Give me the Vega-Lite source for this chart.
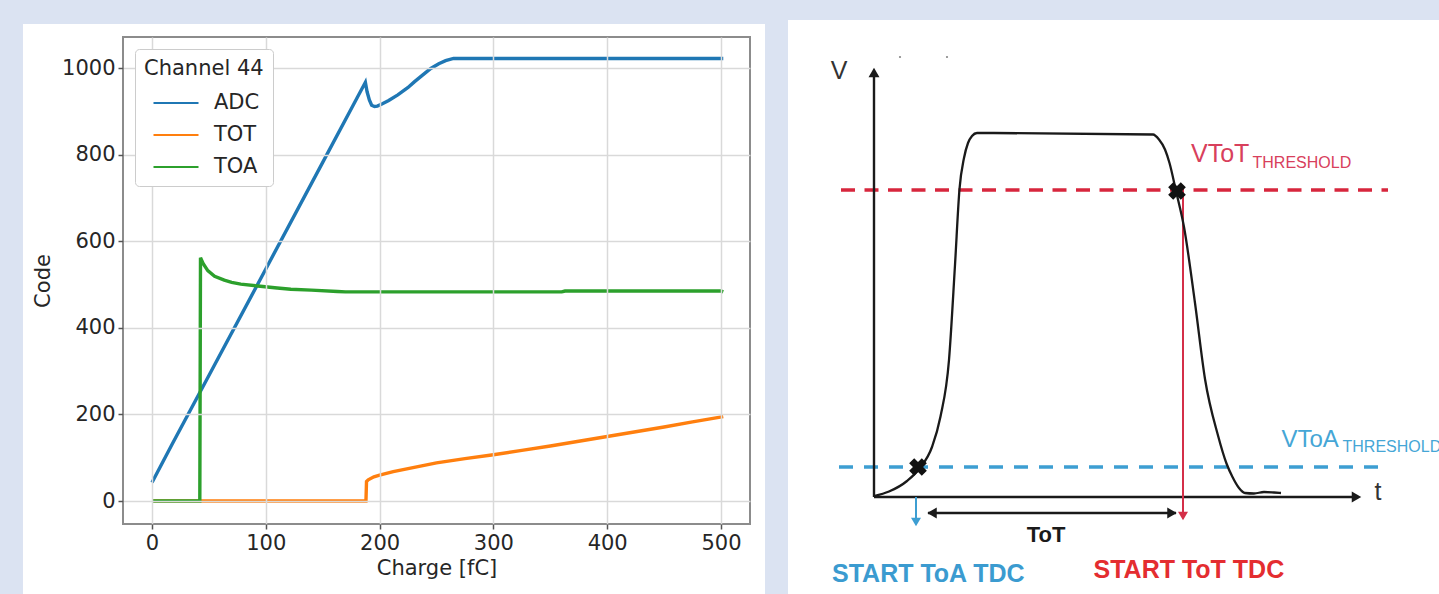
{
  "$schema": "https://vega.github.io/schema/vega-lite/v6.json",
  "background": "#dbe3f2",
  "padding": {"left": 22, "top": 20, "right": 0, "bottom": 0},
  "bounds": "flush",
  "spacing": 38,
  "config": {"view": {"stroke": null}},
  "datasets": {
    "channel44": [
      {"charge": 0, "code": 43, "series": "ADC"},
      {"charge": 18, "code": 133, "series": "ADC"},
      {"charge": 50, "code": 290, "series": "ADC"},
      {"charge": 100, "code": 536, "series": "ADC"},
      {"charge": 150, "code": 782, "series": "ADC"},
      {"charge": 187.5, "code": 967, "series": "ADC"},
      {"charge": 189, "code": 945, "series": "ADC"},
      {"charge": 191, "code": 926, "series": "ADC"},
      {"charge": 193, "code": 914, "series": "ADC"},
      {"charge": 195.5, "code": 911, "series": "ADC"},
      {"charge": 198, "code": 912, "series": "ADC"},
      {"charge": 202, "code": 917, "series": "ADC"},
      {"charge": 208, "code": 925, "series": "ADC"},
      {"charge": 216, "code": 938, "series": "ADC"},
      {"charge": 225, "code": 955, "series": "ADC"},
      {"charge": 230.5, "code": 968, "series": "ADC"},
      {"charge": 238, "code": 984, "series": "ADC"},
      {"charge": 245, "code": 999, "series": "ADC"},
      {"charge": 252, "code": 1010, "series": "ADC"},
      {"charge": 258, "code": 1017, "series": "ADC"},
      {"charge": 265, "code": 1022, "series": "ADC"},
      {"charge": 300, "code": 1022, "series": "ADC"},
      {"charge": 350, "code": 1022, "series": "ADC"},
      {"charge": 400, "code": 1022, "series": "ADC"},
      {"charge": 450, "code": 1022, "series": "ADC"},
      {"charge": 502, "code": 1022, "series": "ADC"},
      {"charge": 0, "code": 0, "series": "TOT"},
      {"charge": 18, "code": 0, "series": "TOT"},
      {"charge": 50, "code": 0, "series": "TOT"},
      {"charge": 100, "code": 0, "series": "TOT"},
      {"charge": 150, "code": 0, "series": "TOT"},
      {"charge": 188, "code": 0, "series": "TOT"},
      {"charge": 188.5, "code": 45, "series": "TOT"},
      {"charge": 190, "code": 49, "series": "TOT"},
      {"charge": 195, "code": 56, "series": "TOT"},
      {"charge": 200, "code": 60, "series": "TOT"},
      {"charge": 212, "code": 68, "series": "TOT"},
      {"charge": 225, "code": 75, "series": "TOT"},
      {"charge": 250, "code": 88, "series": "TOT"},
      {"charge": 275, "code": 98, "series": "TOT"},
      {"charge": 300, "code": 107, "series": "TOT"},
      {"charge": 325, "code": 117, "series": "TOT"},
      {"charge": 350, "code": 127, "series": "TOT"},
      {"charge": 375, "code": 138, "series": "TOT"},
      {"charge": 400, "code": 149, "series": "TOT"},
      {"charge": 425, "code": 160, "series": "TOT"},
      {"charge": 450, "code": 171, "series": "TOT"},
      {"charge": 475, "code": 183, "series": "TOT"},
      {"charge": 502, "code": 195, "series": "TOT"},
      {"charge": 0, "code": 0, "series": "TOA"},
      {"charge": 18, "code": 0, "series": "TOA"},
      {"charge": 30, "code": 0, "series": "TOA"},
      {"charge": 42, "code": 0, "series": "TOA"},
      {"charge": 42.6, "code": 562, "series": "TOA"},
      {"charge": 45, "code": 548, "series": "TOA"},
      {"charge": 49, "code": 532, "series": "TOA"},
      {"charge": 55, "code": 519, "series": "TOA"},
      {"charge": 63.5, "code": 510, "series": "TOA"},
      {"charge": 70, "code": 505, "series": "TOA"},
      {"charge": 78, "code": 501, "series": "TOA"},
      {"charge": 93, "code": 496.5, "series": "TOA"},
      {"charge": 110, "code": 492, "series": "TOA"},
      {"charge": 122, "code": 489, "series": "TOA"},
      {"charge": 140, "code": 487, "series": "TOA"},
      {"charge": 163, "code": 484, "series": "TOA"},
      {"charge": 170, "code": 483, "series": "TOA"},
      {"charge": 200, "code": 483, "series": "TOA"},
      {"charge": 250, "code": 483, "series": "TOA"},
      {"charge": 300, "code": 483, "series": "TOA"},
      {"charge": 360, "code": 483, "series": "TOA"},
      {"charge": 363, "code": 485, "series": "TOA"},
      {"charge": 400, "code": 485, "series": "TOA"},
      {"charge": 450, "code": 485, "series": "TOA"},
      {"charge": 500, "code": 485, "series": "TOA"},
      {"charge": 502, "code": 483, "series": "TOA"}
    ],
    "pulse": [
      {"t": 0, "v": 0}, {"t": 3, "v": 0.9}, {"t": 6.6, "v": 3.0}, {"t": 9.1, "v": 5.5},
      {"t": 11.6, "v": 9.8}, {"t": 13.3, "v": 15.9}, {"t": 15.0, "v": 27.2}, {"t": 16.2, "v": 46.2},
      {"t": 17.1, "v": 61.4}, {"t": 18.0, "v": 67.6}, {"t": 18.8, "v": 70.6}, {"t": 19.6, "v": 72.0},
      {"t": 20.6, "v": 72.6}, {"t": 55.8, "v": 72.3}, {"t": 57.0, "v": 71.3}, {"t": 58.2, "v": 69.3},
      {"t": 59.1, "v": 66.6}, {"t": 60.4, "v": 61.0}, {"t": 62.0, "v": 53.8}, {"t": 64.2, "v": 38.6},
      {"t": 66.2, "v": 23.4}, {"t": 68.8, "v": 12.1}, {"t": 70.5, "v": 6.5}, {"t": 71.7, "v": 3.8},
      {"t": 73.0, "v": 1.6}, {"t": 74.2, "v": 0.6}, {"t": 76, "v": 0.5}, {"t": 78, "v": 0.8},
      {"t": 80, "v": 0.7}, {"t": 81.4, "v": 0.6}
    ]
  },
  "hconcat": [
    {
      "width": 627,
      "height": 487,
      "layer": [
        {
          "data": {"values": [{"panel": "left"}]},
          "mark": {"type": "rect", "fill": "white", "clip": false},
          "encoding": {
            "x": {"datum": -113.4, "type": "quantitative", "scale": {"domain": [-25.5, 525.5], "nice": false, "zero": false}, "title": "Charge [fC]"},
            "x2": {"datum": 538.7},
            "y": {"datum": -214.7, "type": "quantitative", "scale": {"domain": [-53, 1071.6], "nice": false, "zero": false}, "title": "Code"},
            "y2": {"datum": 1101.6}
          }
        },
        {
          "data": {"name": "channel44"},
          "mark": {"type": "line", "strokeWidth": 3.4, "clip": true},
          "encoding": {
            "x": {
              "field": "charge", "type": "quantitative",
              "scale": {"domain": [-25.5, 525.5], "nice": false, "zero": false},
              "axis": {
                "title": "Charge [fC]", "values": [0, 100, 200, 300, 400, 500], "zindex": 1, "format": "d",
                "grid": true, "gridColor": "#d9d9d9", "gridWidth": 1.5, "domain": false,
                "tickColor": "#555555", "tickSize": 5, "tickWidth": 1.5, "labelFlush": false,
                "labelFont": "DejaVu Sans", "labelFontSize": 21, "labelColor": "#262626", "labelPadding": 3,
                "titleFont": "DejaVu Sans", "titleFontSize": 21, "titleFontWeight": "normal", "titleColor": "#262626", "titlePadding": 4
              }
            },
            "y": {
              "field": "code", "type": "quantitative",
              "scale": {"domain": [-53, 1071.6], "nice": false, "zero": false},
              "axis": {
                "title": "Code", "values": [0, 200, 400, 600, 800, 1000], "zindex": 1, "format": "d",
                "grid": true, "gridColor": "#d9d9d9", "gridWidth": 1.5, "domain": false,
                "tickColor": "#555555", "tickSize": 5, "tickWidth": 1.5, "labelFlush": false,
                "labelFont": "DejaVu Sans", "labelFontSize": 21, "labelColor": "#262626", "labelPadding": 3,
                "titleFont": "DejaVu Sans", "titleFontSize": 21, "titleFontWeight": "normal", "titleColor": "#262626", "titlePadding": 8
              }
            },
            "color": {
              "field": "series", "type": "nominal",
              "scale": {"domain": ["ADC", "TOT", "TOA"], "range": ["#1f77b4", "#ff7f0e", "#2ca02c"]},
              "legend": {
                "title": "Channel 44", "orient": "top-left", "offset": 12, "zindex": 2,
                "fillColor": "white", "strokeColor": "#cccccc", "cornerRadius": 4, "padding": 9,
                "titleFont": "DejaVu Sans", "titleFontSize": 21, "titleFontWeight": "normal", "titleColor": "#262626", "titlePadding": 8,
                "labelFont": "DejaVu Sans", "labelFontSize": 21, "labelColor": "#262626",
                "symbolType": "M-1.5,0H1.5", "symbolSize": 900, "symbolStrokeWidth": 2, "symbolOffset": 16, "labelOffset": 22, "rowPadding": 6
              }
            },
            "order": {"field": "charge", "type": "quantitative"}
          }
        },
        {
          "data": {"values": [{"panel": "frame"}]},
          "mark": {"type": "rect", "filled": false, "stroke": "#8c8c8c", "strokeWidth": 2, "clip": false},
          "encoding": {
            "x": {"datum": -25.5, "type": "quantitative", "scale": {"domain": [-25.5, 525.5], "nice": false, "zero": false}},
            "x2": {"datum": 525.5},
            "y": {"datum": -53, "type": "quantitative", "scale": {"domain": [-53, 1071.6], "nice": false, "zero": false}},
            "y2": {"datum": 1071.6}
          }
        }
      ]
    },
    {
      "width": 652,
      "height": 557,
      "layer": [
        {
          "data": {"values": [{"panel": "right"}]},
          "mark": {"type": "rect", "fill": "white", "clip": false},
          "encoding": {
            "x": {"datum": -17.2, "type": "quantitative", "scale": {"domain": [-17.2, 113.2], "nice": false, "zero": false}, "axis": null},
            "x2": {"datum": 113.2},
            "y": {"datum": -19.6, "type": "quantitative", "scale": {"domain": [-19.6, 91.8], "nice": false, "zero": false}, "axis": null},
            "y2": {"datum": 95.2}
          }
        },
        {
          "data": {"values": [{"line": "VToT", "v": 61.2, "t": -6.6, "t2": 102.8}]},
          "mark": {"type": "rule", "stroke": "#d7263d", "strokeWidth": 3.5, "strokeDash": [14, 9.5]},
          "encoding": {
            "x": {"field": "t", "type": "quantitative", "scale": {"domain": [-17.2, 113.2], "nice": false, "zero": false}, "axis": null},
            "x2": {"field": "t2"},
            "y": {"field": "v", "type": "quantitative", "scale": {"domain": [-19.6, 91.8], "nice": false, "zero": false}, "axis": null}
          }
        },
        {
          "data": {"values": [{"line": "VToA", "v": 5.8, "t": -7, "t2": 102}]},
          "mark": {"type": "rule", "stroke": "#3d9ed2", "strokeWidth": 3.5, "strokeDash": [14, 11]},
          "encoding": {
            "x": {"field": "t", "type": "quantitative", "scale": {"domain": [-17.2, 113.2], "nice": false, "zero": false}, "axis": null},
            "x2": {"field": "t2"},
            "y": {"field": "v", "type": "quantitative", "scale": {"domain": [-19.6, 91.8], "nice": false, "zero": false}, "axis": null}
          }
        },
        {
          "data": {"values": [
            {"part": "V axis", "t": 0, "t2": 0, "v": -0.2, "v2": 85.0},
            {"part": "t axis", "t": 0, "t2": 96.8, "v": -0.2, "v2": -0.2},
            {"part": "ToT span", "t": 10.8, "t2": 60.4, "v": -3.4, "v2": -3.4}
          ]},
          "mark": {"type": "rule", "stroke": "#1a1a1a", "strokeWidth": 2.4},
          "encoding": {
            "x": {"field": "t", "type": "quantitative", "scale": {"domain": [-17.2, 113.2], "nice": false, "zero": false}, "axis": null},
            "x2": {"field": "t2"},
            "y": {"field": "v", "type": "quantitative", "scale": {"domain": [-19.6, 91.8], "nice": false, "zero": false}, "axis": null},
            "y2": {"field": "v2"}
          }
        },
        {
          "data": {"values": [{"part": "ToT start", "t": 61.8, "v": 61.2, "v2": -4.5}]},
          "mark": {"type": "rule", "stroke": "#d42f48", "strokeWidth": 2},
          "encoding": {
            "x": {"field": "t", "type": "quantitative", "scale": {"domain": [-17.2, 113.2], "nice": false, "zero": false}, "axis": null},
            "y": {"field": "v", "type": "quantitative", "scale": {"domain": [-19.6, 91.8], "nice": false, "zero": false}, "axis": null},
            "y2": {"field": "v2"}
          }
        },
        {
          "data": {"values": [{"part": "ToA start", "t": 8.4, "v": -0.2, "v2": -5.6}]},
          "mark": {"type": "rule", "stroke": "#3d9ed2", "strokeWidth": 2},
          "encoding": {
            "x": {"field": "t", "type": "quantitative", "scale": {"domain": [-17.2, 113.2], "nice": false, "zero": false}, "axis": null},
            "y": {"field": "v", "type": "quantitative", "scale": {"domain": [-19.6, 91.8], "nice": false, "zero": false}, "axis": null},
            "y2": {"field": "v2"}
          }
        },
        {
          "data": {"name": "pulse"},
          "mark": {"type": "line", "stroke": "#1a1a1a", "strokeWidth": 2.3, "interpolate": "monotone"},
          "encoding": {
            "x": {"field": "t", "type": "quantitative", "scale": {"domain": [-17.2, 113.2], "nice": false, "zero": false}, "axis": null},
            "y": {"field": "v", "type": "quantitative", "scale": {"domain": [-19.6, 91.8], "nice": false, "zero": false}, "axis": null}
          }
        },
        {
          "data": {"values": [
            {"dir": "up", "t": 0, "v": 84.7},
            {"dir": "right", "t": 96.5, "v": -0.2},
            {"dir": "left", "t": 11.6, "v": -3.4},
            {"dir": "right", "t": 59.6, "v": -3.4}
          ]},
          "mark": {"type": "point", "filled": true, "fill": "#1a1a1a", "size": 120, "opacity": 1},
          "encoding": {
            "x": {"field": "t", "type": "quantitative", "scale": {"domain": [-17.2, 113.2], "nice": false, "zero": false}, "axis": null},
            "y": {"field": "v", "type": "quantitative", "scale": {"domain": [-19.6, 91.8], "nice": false, "zero": false}, "axis": null},
            "shape": {"field": "dir", "type": "nominal", "scale": {"domain": ["up", "down", "left", "right"], "range": ["triangle-up", "triangle-down", "triangle-left", "triangle-right"]}, "legend": null}
          }
        },
        {
          "data": {"values": [{"dir": "down", "t": 61.8, "v": -4.0}]},
          "mark": {"type": "point", "filled": true, "fill": "#d42f48", "size": 100, "opacity": 1, "shape": "triangle-down"},
          "encoding": {
            "x": {"field": "t", "type": "quantitative", "scale": {"domain": [-17.2, 113.2], "nice": false, "zero": false}, "axis": null},
            "y": {"field": "v", "type": "quantitative", "scale": {"domain": [-19.6, 91.8], "nice": false, "zero": false}, "axis": null}
          }
        },
        {
          "data": {"values": [{"dir": "down", "t": 8.4, "v": -5.2}]},
          "mark": {"type": "point", "filled": true, "fill": "#3d9ed2", "size": 100, "opacity": 1, "shape": "triangle-down"},
          "encoding": {
            "x": {"field": "t", "type": "quantitative", "scale": {"domain": [-17.2, 113.2], "nice": false, "zero": false}, "axis": null},
            "y": {"field": "v", "type": "quantitative", "scale": {"domain": [-19.6, 91.8], "nice": false, "zero": false}, "axis": null}
          }
        },
        {
          "data": {"values": [{"crossing": "ToA", "t": 8.8, "v": 5.8}, {"crossing": "ToT", "t": 60.6, "v": 61.0}]},
          "mark": {"type": "point", "filled": true, "fill": "#111111", "size": 320, "opacity": 1, "shape": "cross", "angle": 45},
          "encoding": {
            "x": {"field": "t", "type": "quantitative", "scale": {"domain": [-17.2, 113.2], "nice": false, "zero": false}, "axis": null},
            "y": {"field": "v", "type": "quantitative", "scale": {"domain": [-19.6, 91.8], "nice": false, "zero": false}, "axis": null}
          }
        },
        {
          "data": {"values": [{"t": 5.2, "v": 87.8}, {"t": 14.6, "v": 87.8}]},
          "mark": {"type": "point", "filled": true, "fill": "#888888", "size": 5, "opacity": 1},
          "encoding": {
            "x": {"field": "t", "type": "quantitative", "scale": {"domain": [-17.2, 113.2], "nice": false, "zero": false}, "axis": null},
            "y": {"field": "v", "type": "quantitative", "scale": {"domain": [-19.6, 91.8], "nice": false, "zero": false}, "axis": null}
          }
        },
        {
          "data": {"values": [{"label": "V", "t": -7, "v": 85.0}, {"label": "t", "t": 100.8, "v": 0.8}]},
          "mark": {"type": "text", "font": "Liberation Sans", "fontSize": 25, "color": "#333333", "align": "center", "baseline": "middle"},
          "encoding": {
            "x": {"field": "t", "type": "quantitative", "scale": {"domain": [-17.2, 113.2], "nice": false, "zero": false}, "axis": null},
            "y": {"field": "v", "type": "quantitative", "scale": {"domain": [-19.6, 91.8], "nice": false, "zero": false}, "axis": null},
            "text": {"field": "label"}
          }
        },
        {
          "data": {"values": [{"label": "ToT", "t": 34.4, "v": -7.8}]},
          "mark": {"type": "text", "font": "Liberation Sans", "fontSize": 22, "fontWeight": "bold", "color": "#1a1a1a", "align": "center", "baseline": "middle"},
          "encoding": {
            "x": {"field": "t", "type": "quantitative", "scale": {"domain": [-17.2, 113.2], "nice": false, "zero": false}, "axis": null},
            "y": {"field": "v", "type": "quantitative", "scale": {"domain": [-19.6, 91.8], "nice": false, "zero": false}, "axis": null},
            "text": {"field": "label"}
          }
        },
        {
          "data": {"values": [{"label": "START ToA TDC", "t": -8.4, "v": -15.6}]},
          "mark": {"type": "text", "font": "Liberation Sans", "fontSize": 25, "fontWeight": "bold", "color": "#3b9bd0", "align": "left", "baseline": "middle"},
          "encoding": {
            "x": {"field": "t", "type": "quantitative", "scale": {"domain": [-17.2, 113.2], "nice": false, "zero": false}, "axis": null},
            "y": {"field": "v", "type": "quantitative", "scale": {"domain": [-19.6, 91.8], "nice": false, "zero": false}, "axis": null},
            "text": {"field": "label"}
          }
        },
        {
          "data": {"values": [{"label": "START ToT TDC", "t": 43.9, "v": -14.7}]},
          "mark": {"type": "text", "font": "Liberation Sans", "fontSize": 25, "fontWeight": "bold", "color": "#e42d30", "align": "left", "baseline": "middle"},
          "encoding": {
            "x": {"field": "t", "type": "quantitative", "scale": {"domain": [-17.2, 113.2], "nice": false, "zero": false}, "axis": null},
            "y": {"field": "v", "type": "quantitative", "scale": {"domain": [-19.6, 91.8], "nice": false, "zero": false}, "axis": null},
            "text": {"field": "label"}
          }
        },
        {
          "data": {"values": [{"label": "VToT", "t": 63.4, "v": 66.9}]},
          "mark": {"type": "text", "font": "Liberation Sans", "fontSize": 25, "color": "#d8405c", "align": "left", "baseline": "alphabetic"},
          "encoding": {
            "x": {"field": "t", "type": "quantitative", "scale": {"domain": [-17.2, 113.2], "nice": false, "zero": false}, "axis": null},
            "y": {"field": "v", "type": "quantitative", "scale": {"domain": [-19.6, 91.8], "nice": false, "zero": false}, "axis": null},
            "text": {"field": "label"}
          }
        },
        {
          "data": {"values": [{"label": "THRESHOLD", "t": 75.7, "v": 65.7}]},
          "mark": {"type": "text", "font": "Liberation Sans", "fontSize": 16, "color": "#d8405c", "align": "left", "baseline": "alphabetic"},
          "encoding": {
            "x": {"field": "t", "type": "quantitative", "scale": {"domain": [-17.2, 113.2], "nice": false, "zero": false}, "axis": null},
            "y": {"field": "v", "type": "quantitative", "scale": {"domain": [-19.6, 91.8], "nice": false, "zero": false}, "axis": null},
            "text": {"field": "label"}
          }
        },
        {
          "data": {"values": [{"label": "VToA", "t": 81.5, "v": 9.9}]},
          "mark": {"type": "text", "font": "Liberation Sans", "fontSize": 24, "color": "#45a6d6", "align": "left", "baseline": "alphabetic"},
          "encoding": {
            "x": {"field": "t", "type": "quantitative", "scale": {"domain": [-17.2, 113.2], "nice": false, "zero": false}, "axis": null},
            "y": {"field": "v", "type": "quantitative", "scale": {"domain": [-19.6, 91.8], "nice": false, "zero": false}, "axis": null},
            "text": {"field": "label"}
          }
        },
        {
          "data": {"values": [{"label": "THRESHOLD", "t": 93.7, "v": 8.9}]},
          "mark": {"type": "text", "font": "Liberation Sans", "fontSize": 16, "color": "#45a6d6", "align": "left", "baseline": "alphabetic", "clip": true},
          "encoding": {
            "x": {"field": "t", "type": "quantitative", "scale": {"domain": [-17.2, 113.2], "nice": false, "zero": false}, "axis": null},
            "y": {"field": "v", "type": "quantitative", "scale": {"domain": [-19.6, 91.8], "nice": false, "zero": false}, "axis": null},
            "text": {"field": "label"}
          }
        }
      ]
    }
  ]
}
